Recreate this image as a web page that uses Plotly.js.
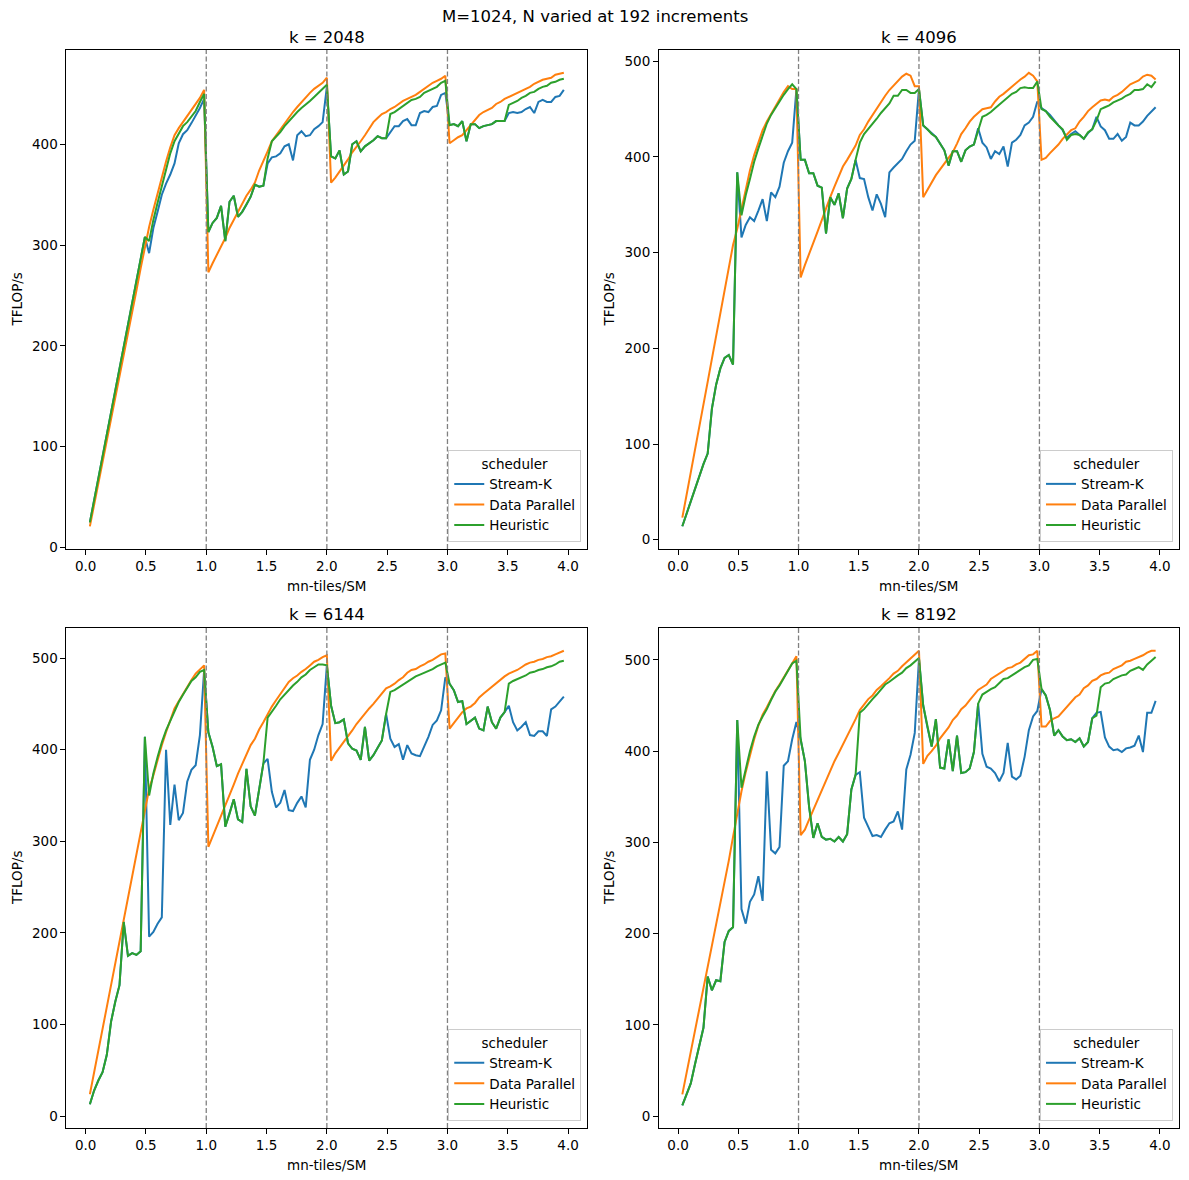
<!DOCTYPE html>
<html>
<head>
<meta charset="utf-8">
<script src="https://cdn.plot.ly/plotly-3.0.1.min.js"></script>
<style>body { margin: 0; background: #fff; }</style>
</head>
<body>
<div id="plot" style="width:1189px;height:1180px;"></div>
<script>
// sweep: M fixed at 1024, N grows by 192 per step -> 4 output tiles per step, spread over 114 SMs
const N_STEP = 192;
const STEPS = 113;
const TILES_PER_STEP = 4;
const SM_COUNT = 114;
const nValues = Array.from({ length: STEPS }, (_, i) => (i + 1) * N_STEP);
const tilesPerSM = nValues.map(n => (n / N_STEP) * TILES_PER_STEP / SM_COUNT);

const kValues = [2048, 4096, 6144, 8192];
const schedulers = ['Stream-K', 'Data Parallel', 'Heuristic'];
const colors = ['#1f77b4', '#ff7f0e', '#2ca02c'];
const xTicks = [0, 0.5, 1, 1.5, 2, 2.5, 3, 3.5, 4];
const waveBoundaries = [1, 2, 3];

// TFLOP/s, one value per N step
const streamK2048 = [25,47,68,90,112,134,156,177,199,221,243,264,286,308,
  292,317,333,350,361,370,381,401,410,414,421,428,436,445,
  313,322,327,339,304,343,349,328,333,340,348,360,358,359,
  381,387,388,391,398,400,384,409,413,408,409,415,418,422,457,
  388,386,394,370,373,400,403,393,398,401,404,408,406,406,
  412,418,418,423,425,419,419,431,433,432,437,438,449,451,
  419,420,418,423,403,420,420,416,418,419,420,423,423,423,
  431,432,431,432,435,437,431,442,444,442,442,447,448,454];
const dataParallel2048 = [21,42,64,85,106,128,149,170,191,213,234,255,277,298,
  318,335,352,368,383,397,409,416,422,428,433,439,446,454,
  273,282,290,298,307,317,325,332,340,349,355,362,374,383,393,403,409,414,421,427,432,437,442,447,451,455,458,461,466,
  362,367,373,378,385,392,397,403,409,415,422,426,430,432,435,437,440,443,445,447,449,452,455,458,461,463,465,468,
  401,404,407,409,414,419,425,429,432,434,436,440,442,445,447,449,451,453,455,457,460,462,464,465,466,469,470,471];
const heuristic2048 = [25,47,68,90,112,134,156,177,199,221,243,264,286,308,
  304,325,342,359,373,391,403,411,418,422,428,433,442,450,
  313,322,327,339,304,343,349,328,333,340,348,360,358,359,386,403,407,412,418,423,428,432,436,440,443,447,451,455,459,
  388,386,394,370,373,400,403,393,398,401,404,408,406,406,430,432,435,438,441,444,445,447,451,453,455,457,461,463,
  419,420,418,423,403,420,420,416,418,419,420,423,423,423,439,441,443,446,448,451,452,455,457,458,461,462,464,465];

const streamK4096 = [14,27,40,54,67,79,90,137,162,179,190,193,183,384,
  316,329,337,333,344,356,333,363,358,369,394,406,415,471,
  397,397,383,383,370,368,320,358,350,362,336,367,377,397,
  378,377,358,344,361,351,337,384,389,393,398,406,413,417,471,
  433,429,424,421,414,407,391,406,406,395,407,411,413,
  430,415,410,398,406,403,411,390,415,418,423,433,436,442,458,
  451,448,444,438,433,428,420,424,427,423,419,425,429,442,432,428,419,419,424,417,421,436,433,433,437,443,448,452];
const dataParallel4096 = [23,46,70,94,118,142,165,189,213,237,261,284,308,
  325,345,367,386,402,416,428,437,445,453,461,468,474,471,471,
  274,287,298,310,322,334,347,358,369,379,390,397,404,412,423,429,437,444,451,457,464,470,475,480,484,487,485,474,474,
  358,366,374,381,387,393,399,405,414,424,430,437,442,446,450,451,452,458,463,466,470,473,477,481,484,488,485,479,
  397,399,404,408,413,419,424,428,430,437,442,448,452,456,459,460,459,463,465,468,472,476,478,480,484,486,485,481];
const heuristic4096 = [14,27,40,54,67,79,90,137,162,179,190,193,183,384,
  339,360,377,395,409,423,435,444,451,459,465,471,476,471,
  397,397,383,383,370,368,320,358,350,362,336,367,377,397,415,424,429,435,440,446,451,456,464,464,470,470,467,467,471,
  433,429,424,421,414,407,391,406,406,395,407,411,413,428,442,444,447,451,455,459,462,466,468,472,473,472,472,479,
  450,448,442,437,433,429,418,423,424,423,419,426,429,438,450,452,454,457,459,461,464,466,470,470,471,476,473,479];

const streamK6144 = [13,28,39,48,67,103,125,143,212,175,178,176,180,414,
  196,201,210,217,400,318,362,323,331,365,378,383,416,487,
  419,403,382,384,316,330,346,324,321,379,338,328,359,385,
  390,354,337,342,356,334,333,342,349,337,389,400,416,428,492,
  448,429,430,433,407,401,399,389,425,388,394,402,410,
  439,412,403,406,389,405,396,394,393,403,414,427,432,443,479,
  472,465,452,453,428,432,435,423,421,447,430,423,435,441,
  448,430,421,425,430,416,415,420,420,415,444,447,453,458];
const dataParallel6144 = [24,48,72,96,120,144,167,191,215,239,263,287,311,
  337,357,372,389,405,419,432,445,453,461,469,476,483,487,492,
  294,305,316,328,339,350,362,374,385,396,405,412,422,430,439,447,454,461,468,474,478,481,485,488,492,496,498,501,503,
  388,396,402,408,415,421,428,434,439,445,450,456,461,467,469,472,476,479,484,487,488,491,493,496,498,501,504,505,
  423,429,435,441,445,447,451,457,461,465,468,472,476,480,483,485,487,490,493,495,496,498,499,501,502,504,506,508];
const heuristic6144 = [13,28,39,48,67,103,125,143,212,175,178,176,180,414,
  350,374,392,408,421,432,443,452,460,468,475,479,485,487,
  419,403,382,384,316,330,346,324,321,379,338,328,359,385,435,441,448,455,460,466,470,474,479,482,487,490,493,493,492,
  448,429,430,433,407,401,399,389,425,388,394,402,410,439,463,465,468,471,474,477,480,482,484,486,488,491,493,495,
  472,465,452,453,428,432,435,423,421,447,430,423,435,441,472,475,477,479,481,484,485,487,488,490,491,493,496,497];

const streamK8192 = [12,24,36,57,77,97,153,138,149,148,191,203,207,434,
  227,211,235,243,263,236,378,292,288,295,384,389,413,432,
  413,389,339,305,321,306,303,304,301,306,301,309,358,374,
  377,327,317,307,308,306,314,321,323,334,314,380,396,420,501,
  450,426,405,435,382,381,413,378,417,376,377,381,399,452,
  397,383,381,376,367,376,409,372,369,373,394,423,438,444,
  468,461,445,417,423,416,412,413,410,414,405,410,436,
  442,443,415,405,401,402,399,403,404,406,417,399,442,442,455];
const dataParallel8192 = [24,47,70,94,117,140,164,187,210,234,257,280,306,
  332,356,377,396,413,428,440,448,457,466,473,481,488,496,504,
  308,314,325,336,346,356,367,378,389,398,407,416,426,435,445,451,457,461,467,471,475,480,485,488,493,497,502,506,510,
  386,395,400,406,414,420,426,434,439,446,450,456,462,467,470,473,479,482,485,488,491,492,495,497,501,505,506,510,
  427,427,433,436,438,443,449,454,459,462,469,472,477,479,483,485,486,490,492,494,498,499,501,503,505,508,510,510];
const heuristic8192 = [12,24,36,57,77,97,153,138,149,148,191,203,207,434,
  360,380,400,416,429,438,446,456,465,472,480,487,496,499,
  413,389,339,305,321,306,303,304,301,306,301,309,358,374,442,446,452,457,462,468,473,476,480,483,486,491,494,498,502,
  450,426,405,435,382,381,413,378,417,376,377,381,399,452,462,465,468,470,475,479,480,483,486,489,492,494,500,501,
  468,461,445,417,423,416,412,413,410,414,405,410,436,439,470,474,475,479,481,483,484,488,490,492,489,495,499,503];

const seriesByK = [
  [streamK2048, dataParallel2048, heuristic2048],
  [streamK4096, dataParallel4096, heuristic4096],
  [streamK6144, dataParallel6144, heuristic6144],
  [streamK8192, dataParallel8192, heuristic8192]
];

// subplot boxes in paper coords (figure margins are zero)
const xDomains = [[0.0559, 0.4939], [0.5542, 0.9916]];
const yDomains = [[0.5347, 0.9576], [0.0441, 0.4678]];
const yRanges = [[-1.5, 493.5], [-9.8, 511.8], [-12.8, 532.8], [-12.8, 534.9]];
const font = 'DejaVu Sans, sans-serif';

const traces = [];
const layout = {
  width: 1189,
  height: 1180,
  margin: { l: 0, r: 0, t: 0, b: 0 },
  paper_bgcolor: 'white',
  plot_bgcolor: 'white',
  font: { family: font, size: 13.5, color: 'black' },
  hovermode: false,
  shapes: [],
  annotations: [{
    text: 'M=1024, N varied at 192 increments',
    xref: 'paper', yref: 'paper', x: 0.5, y: 1 - 16 / 1180,
    xanchor: 'center', yanchor: 'middle', showarrow: false,
    font: { size: 16.5 }
  }]
};

kValues.forEach((k, p) => {
  const col = p % 2;
  const row = Math.floor(p / 2);
  const suffix = p === 0 ? '' : String(p + 1);
  const xName = 'x' + suffix;
  const yName = 'y' + suffix;
  const legendName = 'legend' + suffix;
  const xd = xDomains[col];
  const yd = yDomains[row];

  seriesByK[p].forEach((values, s) => {
    traces.push({
      x: tilesPerSM,
      y: values,
      type: 'scatter',
      mode: 'lines',
      name: schedulers[s],
      line: { color: colors[s], width: 2 },
      xaxis: xName,
      yaxis: yName,
      legend: legendName
    });
  });

  const axisCommon = {
    showgrid: false,
    zeroline: false,
    showline: true,
    linecolor: 'black',
    linewidth: 1,
    mirror: true,
    ticks: 'outside',
    ticklen: 5,
    tickwidth: 1,
    tickcolor: 'black',
    tickfont: { size: 13.5 }
  };

  layout['xaxis' + suffix] = Object.assign({}, axisCommon, {
    domain: xd,
    anchor: yName,
    range: [-0.159, 4.159],
    tickvals: xTicks,
    tickformat: '.1f'
  });
  layout['yaxis' + suffix] = Object.assign({}, axisCommon, {
    domain: yd,
    anchor: xName,
    range: yRanges[p],
    dtick: 100
  });

  // legend in the lower right of each panel
  layout[legendName] = {
    x: xd[1] - 6 / 1189,
    y: yd[0] + 7 / 1180,
    xanchor: 'right',
    yanchor: 'bottom',
    bgcolor: 'rgba(255,255,255,0.8)',
    bordercolor: '#cccccc',
    borderwidth: 1,
    font: { size: 13.5 },
    title: { text: 'scheduler', side: 'top center', font: { size: 13.5 } },
    itemwidth: 30,
    tracegroupgap: 0
  };

  // dashed markers at whole waves
  waveBoundaries.forEach(w => {
    layout.shapes.push({
      type: 'line', xref: xName, yref: yName + ' domain',
      x0: w, x1: w, y0: 0, y1: 1,
      line: { color: '#808080', width: 1.3, dash: '5px,2.5px' }
    });
  });

  const cx = (xd[0] + xd[1]) / 2;
  const cy = (yd[0] + yd[1]) / 2;
  const topPx = row === 0 ? 37 : 614;
  const xlabPx = row === 0 ? 586 : 1165;
  const ylabPx = col === 0 ? 17 : 609;

  layout.annotations.push({
    text: 'k = ' + k, xref: 'paper', yref: 'paper',
    x: cx, y: 1 - topPx / 1180, xanchor: 'center', yanchor: 'middle',
    showarrow: false, font: { size: 16.5 }
  });
  layout.annotations.push({
    text: 'mn-tiles/SM', xref: 'paper', yref: 'paper',
    x: cx, y: 1 - xlabPx / 1180, xanchor: 'center', yanchor: 'middle',
    showarrow: false, font: { size: 13.5 }
  });
  layout.annotations.push({
    text: 'TFLOP/s', xref: 'paper', yref: 'paper',
    x: ylabPx / 1189, y: cy, xanchor: 'center', yanchor: 'middle',
    textangle: -90, showarrow: false, font: { size: 13.5 }
  });
});

Plotly.newPlot('plot', traces, layout, { staticPlot: true, displayModeBar: false });
</script>
</body>
</html>
